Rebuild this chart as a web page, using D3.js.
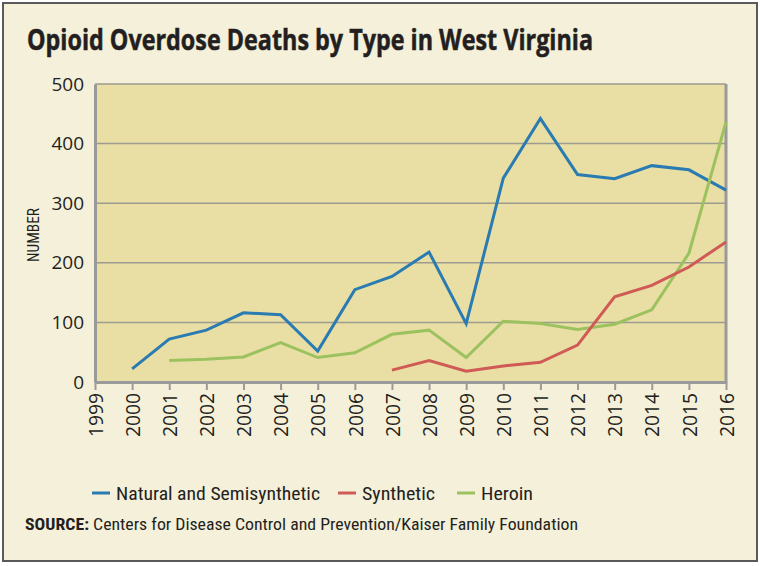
<!DOCTYPE html>
<html><head><meta charset="utf-8">
<script src="https://cdn.jsdelivr.net/npm/d3@7"></script>
<style>
html,body{margin:0;padding:0;background:#fff;}
svg{display:block;}
text{font-family:"Liberation Sans Narrow","Roboto Condensed","Open Sans",sans-serif;fill:#231f20;}
</style></head>
<body>
<svg id="chart" width="760" height="566"></svg>
<script>
const years = [1999,2000,2001,2002,2003,2004,2005,2006,2007,2008,2009,2010,2011,2012,2013,2014,2015,2016];
const yTicks = [0,100,200,300,400,500];
const naturalYears = [2000,2001,2002,2003,2004,2005,2006,2007,2008,2009,2010,2011,2012,2013,2014,2015,2016];
const naturalValues = [22,72,87,116,113,52,155,177,218,98,342,442,348,341,363,356,322];
const syntheticYears = [2007,2008,2009,2010,2011,2012,2013,2014,2015,2016];
const syntheticValues = [20,36,18,27,33,62,143,162,193,235];
const heroinYears = [2001,2002,2003,2004,2005,2006,2007,2008,2009,2010,2011,2012,2013,2014,2015,2016];
const heroinValues = [36,38,42,66,41,49,80,87,41,102,98,88,97,121,216,436];
const seriesNames = ["Natural and Semisynthetic","Synthetic","Heroin"];
const seriesColors = ["#2a7bb1","#d05a55","#9cc25f"];
const title = "Opioid Overdose Deaths by Type in West Virginia";
const yLabel = "NUMBER";
const sourceBold = "SOURCE:";
const sourceText = " Centers for Disease Control and Prevention/Kaiser Family Foundation";

const svg = d3.select("#chart");
svg.append("rect").attr("x",3).attr("y",3).attr("width",754).attr("height",558)
  .attr("fill","#f5f0da").attr("stroke","#5a5a5a").attr("stroke-width",2);

const x = d3.scaleLinear().domain([1999,2016]).range([95,726]);
const y = d3.scaleLinear().domain([0,500]).range([382,84]);

svg.append("rect").attr("x",x(1999)).attr("y",y(500)).attr("width",x(2016)-x(1999)).attr("height",y(0)-y(500))
  .attr("fill","#e9dfa4");

svg.append("g").selectAll("line").data(yTicks.filter(d=>d>0)).join("line")
  .attr("x1",x(1999)).attr("x2",x(2016)).attr("y1",d=>y(d)).attr("y2",d=>y(d))
  .attr("stroke","#9d9a8f").attr("stroke-width",1.5);

const xAxis = d3.axisBottom(x).tickValues(years).tickFormat(d3.format("d")).tickSize(8).tickSizeOuter(0);
const gx = svg.append("g").attr("transform",`translate(0,${y(0)})`).call(xAxis);
gx.select(".domain").attr("stroke","#9a9a9a").attr("stroke-width",3);
gx.selectAll(".tick line").attr("stroke","#9a9a9a").attr("stroke-width",2);
gx.selectAll(".tick text").attr("font-size",20).attr("fill","#231f20")
  .attr("transform","rotate(-90)").attr("text-anchor","end")
  .attr("x",-11).attr("y",0).attr("dy","0.36em")
  .attr("textLength",44).attr("lengthAdjust","spacingAndGlyphs")
  .style("font-family",'"Liberation Sans Narrow","Open Sans",sans-serif');

const yAxis = d3.axisLeft(y).tickValues(yTicks).tickSize(0).tickPadding(11);
const gy = svg.append("g").attr("transform",`translate(${x(1999)},0)`).call(yAxis);
gy.select(".domain").attr("stroke","#9a9a9a").attr("stroke-width",3);
gy.selectAll(".tick text").attr("font-size",19).attr("fill","#231f20")
  .style("font-family",'"Liberation Sans Narrow","Open Sans",sans-serif');

svg.append("line").attr("x1",x(2016)).attr("x2",x(2016)).attr("y1",y(500)).attr("y2",y(0)+1)
  .attr("stroke","#9a9a9a").attr("stroke-width",3);

const line = d3.line().x(d=>x(d[0])).y(d=>y(d[1]));
const seriesData = [
  d3.zip(naturalYears,naturalValues),
  d3.zip(syntheticYears,syntheticValues),
  d3.zip(heroinYears,heroinValues)
];
[0,2,1].forEach(i=>{
  svg.append("path").datum(seriesData[i]).attr("d",line)
    .attr("fill","none").attr("stroke",seriesColors[i]).attr("stroke-width",3)
    .attr("stroke-linejoin","miter");
});

svg.append("text").attr("x",27).attr("y",50).attr("font-size",28).attr("font-weight","bold")
  .attr("textLength",566).attr("lengthAdjust","spacingAndGlyphs")
  .attr("stroke","#231f20").attr("stroke-width",0.5)
  .style("font-family",'"Open Sans","Liberation Sans",sans-serif')
  .text(title);

svg.append("text").attr("transform","translate(39,235) rotate(-90)").attr("text-anchor","middle")
  .attr("font-size",17).attr("textLength",54).attr("lengthAdjust","spacingAndGlyphs").text(yLabel);

const legendX = [92,338,457];
const legendW = [204,73,52];
const legendG = svg.append("g");
seriesNames.forEach((n,i)=>{
  legendG.append("line").attr("x1",legendX[i]).attr("x2",legendX[i]+18).attr("y1",493).attr("y2",493)
    .attr("stroke",seriesColors[i]).attr("stroke-width",3);
  legendG.append("text").attr("x",legendX[i]+24).attr("y",500).attr("font-size",19)
    .attr("textLength",legendW[i]).attr("lengthAdjust","spacingAndGlyphs").text(n);
});

const src = svg.append("text").attr("x",25).attr("y",530).attr("font-size",17)
  .attr("textLength",553).attr("lengthAdjust","spacingAndGlyphs");
src.append("tspan").attr("font-weight","bold").text(sourceBold);
src.append("tspan").text(sourceText);
</script>
</body></html>
